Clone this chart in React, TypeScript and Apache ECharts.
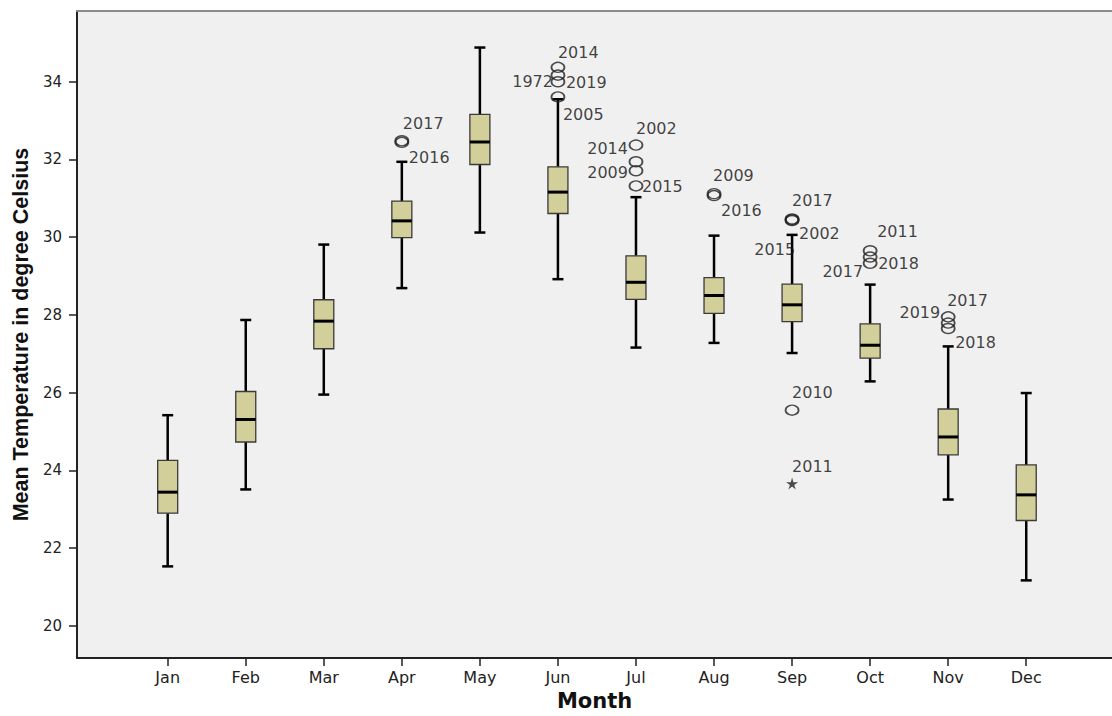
import React, { useEffect, useRef } from "react";
import * as echarts from "echarts";

const months = ["Jan", "Feb", "Mar", "Apr", "May", "Jun", "Jul", "Aug", "Sep", "Oct", "Nov", "Dec"];
const monthPositions = [1, 2, 3, 4, 5, 6, 7, 8, 9, 10, 11, 12];
const whiskerLow = [21.53, 23.51, 25.95, 28.69, 30.12, 28.92, 27.16, 27.28, 27.02, 26.29, 23.25, 21.17];
const quartile1 = [22.9, 24.73, 27.13, 29.99, 31.87, 30.61, 28.4, 28.04, 27.83, 26.89, 24.4, 22.71];
const medians = [23.44, 25.31, 27.84, 30.42, 32.45, 31.16, 28.84, 28.5, 28.26, 27.22, 24.86, 23.37];
const quartile3 = [24.26, 26.03, 28.39, 30.93, 33.16, 31.81, 29.52, 28.96, 28.79, 27.77, 25.58, 24.14];
const whiskerHigh = [25.42, 27.87, 29.81, 31.94, 34.88, 33.55, 31.03, 30.04, 30.06, 28.78, 27.19, 25.99];

const yTicks = [20, 22, 24, 26, 28, 30, 32, 34];

const outlierMonth = [4, 4, 6, 6, 6, 6, 7, 7, 7, 7, 8, 8, 9, 9, 9, 9, 10, 10, 10, 11, 11, 11];
const outlierValue = [32.48, 32.44, 34.37, 34.17, 34.0, 33.61, 32.37, 31.94, 31.71, 31.32, 31.12, 31.07, 30.47, 30.45, 30.43, 25.55, 29.65, 29.49, 29.33, 27.95, 27.79, 27.65];
const outlierYear = ["2017", "2016", "2014", "2019", "1972", "2005", "2002", "2014", "2009", "2015", "2009", "2016", "2017", "2002", "2015", "2010", "2011", "2018", "2017", "2017", "2019", "2018"];

const extremeMonth = [9];
const extremeValue = [23.66];
const extremeYear = ["2011"];

// label placement (style only)
const outlierLabelOffset = [
  [1, -17], [7, 15],
  [0, -15], [8, 7], [-5, 0], [5, 18],
  [0, -17], [-8, -13], [-8, 2], [6, 1],
  [-1, -18], [7, 15],
  [0, -18], [7, 14], [3, 29], [0, -18],
  [7, -19], [8, 6], [-7, 8],
  [-1, -16], [-8, -11], [7, 14],
];
const outlierLabelAlign = [
  "left", "left",
  "left", "left", "right", "left",
  "left", "right", "right", "left",
  "left", "left",
  "left", "left", "right", "left",
  "left", "left", "right",
  "left", "right", "left",
];
const extremeLabelOffset = [[0, -17]];

const STAR = "path://M10 0L12.06 7.17L19.51 6.91L13.33 11.08L15.88 18.09L10 13.5L4.12 18.09L6.67 11.08L0.49 6.91L7.94 7.17Z";

export default function App() {
  const ref = useRef<HTMLDivElement>(null);

  useEffect(() => {
    if (!ref.current) return;
    const chart = echarts.init(ref.current, null, { renderer: "svg" });

    const boxData = monthPositions.map((m, i) => [m, whiskerLow[i], quartile1[i], medians[i], quartile3[i], whiskerHigh[i]]);

    const labelFont = { fontFamily: "DejaVu Sans", fontSize: 16, color: "#111", textBorderWidth: 0 };

    const outlierData = outlierMonth.map((m, i) => ({
      value: [m, outlierValue[i]],
      name: outlierYear[i],
      label: {
        show: true,
        position: "inside",
        formatter: outlierYear[i],
        align: outlierLabelAlign[i],
        verticalAlign: "middle",
        offset: outlierLabelOffset[i],
        ...labelFont,
      },
    }));

    const extremeData = extremeMonth.map((m, i) => ({
      value: [m, extremeValue[i]],
      name: extremeYear[i],
      label: {
        show: true,
        position: "inside",
        formatter: extremeYear[i],
        align: "left",
        verticalAlign: "middle",
        offset: extremeLabelOffset[i],
        ...labelFont,
      },
    }));

    const xMin = -0.162;
    const xMax = 13.099;

    chart.setOption({
      animation: false,
      backgroundColor: "#ffffff",
      grid: {
        left: 77,
        top: 11,
        right: 0,
        bottom: 57,
        show: true,
        backgroundColor: "#f0f0f0",
        borderWidth: 0,
      },
      xAxis: [
        {
          type: "value",
          min: xMin,
          max: xMax,
          position: "bottom",
          splitLine: { show: false },
          axisLine: { show: true, onZero: false, lineStyle: { color: "#222", width: 2 } },
          axisTick: { show: true, customValues: monthPositions, length: 8, lineStyle: { color: "#222", width: 1.5 } },
          axisLabel: {
            show: true,
            customValues: monthPositions,
            formatter: (v: number) => months[Math.round(v) - 1] || "",
            margin: 11,
            fontFamily: "DejaVu Sans",
            fontSize: 16,
            color: "#222",
          },
          name: "Month",
          nameLocation: "middle",
          nameGap: 31,
          nameTextStyle: { fontFamily: "DejaVu Sans", fontWeight: "bold", fontSize: 21, color: "#111" },
        },
        {
          type: "value",
          min: xMin,
          max: xMax,
          position: "top",
          splitLine: { show: false },
          axisLine: { show: true, onZero: false, lineStyle: { color: "#8c8c8c", width: 2 } },
          axisTick: { show: false },
          axisLabel: { show: false },
        },
      ],
      yAxis: {
        type: "value",
        min: 19.17,
        max: 35.82,
        splitLine: { show: false },
        axisLine: { show: true, onZero: false, lineStyle: { color: "#222", width: 2 } },
        axisTick: { show: true, customValues: yTicks, length: 8, lineStyle: { color: "#222", width: 1.5 } },
        axisLabel: {
          show: true,
          customValues: yTicks,
          margin: 15,
          fontFamily: "DejaVu Sans",
          fontSize: 15,
          color: "#222",
        },
        name: "Mean Temperature in degree Celsius",
        nameLocation: "middle",
        nameGap: 39,
        nameTextStyle: { fontFamily: "Liberation Sans", fontWeight: "bold", fontSize: 21.5, color: "#111" },
      },
      series: [
        {
          type: "custom",
          xAxisIndex: 0,
          data: boxData,
          encode: { x: 0, y: [1, 2, 3, 4, 5] },
          renderItem: (params: any, api: any) => {
            const x = api.value(0);
            const lo = api.coord([x, api.value(1)]);
            const q1 = api.coord([x, api.value(2)]);
            const md = api.coord([x, api.value(3)]);
            const q3 = api.coord([x, api.value(4)]);
            const hi = api.coord([x, api.value(5)]);
            const cx = lo[0];
            const bw = 20;
            const cw = 11;
            const wStyle = { stroke: "#000", lineWidth: 2.5 };
            return {
              type: "group",
              children: [
                { type: "line", shape: { x1: cx, y1: hi[1], x2: cx, y2: q3[1] }, style: wStyle },
                { type: "line", shape: { x1: cx, y1: q1[1], x2: cx, y2: lo[1] }, style: wStyle },
                { type: "line", shape: { x1: cx - cw / 2, y1: hi[1], x2: cx + cw / 2, y2: hi[1] }, style: wStyle },
                { type: "line", shape: { x1: cx - cw / 2, y1: lo[1], x2: cx + cw / 2, y2: lo[1] }, style: wStyle },
                {
                  type: "rect",
                  shape: { x: cx - bw / 2, y: q3[1], width: bw, height: q1[1] - q3[1] },
                  style: { fill: "#d3cf9a", stroke: "#3a3a3a", lineWidth: 1.3 },
                },
                { type: "line", shape: { x1: cx - bw / 2, y1: md[1], x2: cx + bw / 2, y2: md[1] }, style: { stroke: "#000", lineWidth: 3 } },
              ],
            };
          },
        },
        {
          type: "scatter",
          xAxisIndex: 0,
          symbol: "circle",
          symbolSize: [13, 10],
          itemStyle: { color: "rgba(0,0,0,0)", borderColor: "#222", borderWidth: 1.6 },
          data: outlierData,
          z: 3,
        },
        {
          type: "scatter",
          xAxisIndex: 0,
          symbol: STAR,
          symbolSize: 12,
          itemStyle: { color: "#222" },
          data: extremeData,
          z: 3,
        },
      ],
    });

    return () => chart.dispose();
  }, []);

  return (
    <div
      ref={ref}
      style={{ position: "absolute", left: 0, top: 0, width: 1112, height: 716 }}
    />
  );
}
